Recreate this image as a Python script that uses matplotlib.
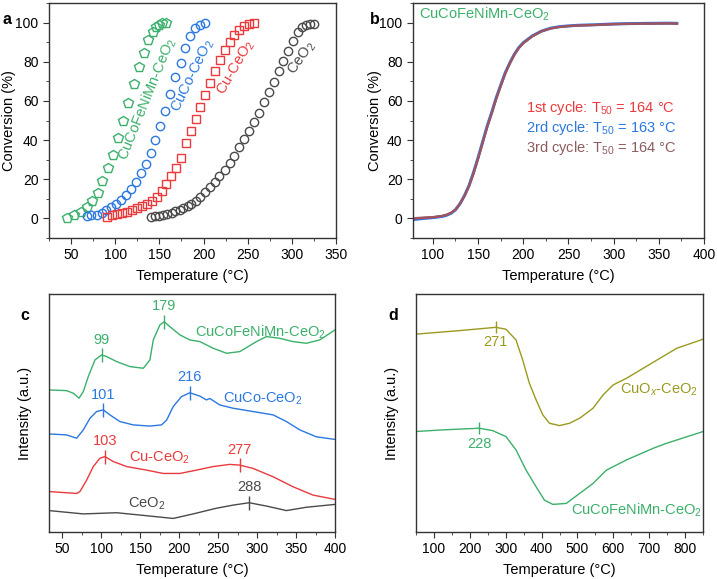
import matplotlib
matplotlib.use('Agg')
import matplotlib.pyplot as plt
from matplotlib.ticker import MultipleLocator

plt.rcParams['font.family'] = ['Liberation Sans', 'DejaVu Sans']
plt.rcParams['font.size'] = 10
plt.rcParams['mathtext.fontset'] = 'custom'
plt.rcParams['mathtext.rm'] = 'Liberation Sans'
plt.rcParams['mathtext.it'] = 'Liberation Sans:italic'

GREEN = '#3bb06b'
BLUE = '#2a78e0'
RED = '#ea3a3d'
GREY = '#4a4a4a'
OLIVE = '#9a9a1e'
BROWN = '#8e5c5c'

# ---- panel a: light-off curves
t_hea = [45, 53.5, 61.5, 68.5, 73.5, 80, 85.5, 91.5, 97.5, 103.5, 109, 115, 121, 126.5,
         132.5, 137.5, 142.5, 146, 149.5, 152.5, 157]
c_hea = [0.3, 2, 3.4, 5.8, 9, 13, 19, 25.6, 32.6, 41, 50, 59, 68.6, 77.3,
         84.6, 91.3, 95.2, 97.6, 98.8, 99.7, 100]
t_cuco = [67.5, 73, 79, 84.5, 90, 95.5, 101, 107, 112.5, 118, 123.5, 129, 134.5, 140,
          145.5, 151, 156, 162.5, 168, 174, 179.5, 185, 190.5, 196, 201.5]
c_cuco = [1, 1.5, 2, 3, 4.5, 6, 7.5, 9.5, 12, 15, 18.5, 23, 28, 33.5,
          40, 47, 55, 63.5, 72, 79.5, 87, 93, 97, 99, 100]
t_cu = [91, 96.5, 102, 108, 113.5, 119, 124.5, 130, 136, 141.5, 147, 152.5, 158, 163.5,
        169, 174.5, 180, 185.5, 191, 196.5, 201.5, 207.5, 213, 218.5, 224, 229.5, 234.5,
        240, 245.5, 251, 257]
c_cu = [0.8, 1.7, 2.2, 2.7, 3.4, 4.3, 5.1, 6.1, 7.3, 9, 11, 14, 17.5, 21.5,
        25.5, 31, 38.5, 44.5, 51, 56.8, 62.8, 69.3, 75.1, 80.7, 85.8, 90.1, 93.5,
        96.1, 98.3, 99.5, 100]
t_ceo2 = [141, 145, 150, 154, 159, 164, 168, 173, 177, 182, 186, 191, 196, 201.5, 207,
          213, 218, 224, 229.5, 235, 240, 246, 251.5, 257, 263, 268, 274, 280, 285, 290,
          296, 301.5, 306.5, 311, 316, 320, 325]
c_ceo2 = [0.5, 1, 1.4, 1.9, 2.4, 2.9, 3.6, 4.4, 5.3, 6.3, 7.5, 8.9, 10.8, 13.7, 16.2,
          18.8, 21.8, 24.9, 28.3, 32.1, 36.3, 40.6, 44.7, 49.1, 53.9, 59.4, 64.3, 69.5,
          75.1, 80.5, 85.7, 90.8, 95.2, 97.6, 98.6, 99.1, 99.5]

# ---- panel b: three cycles
t_cyc = [80, 90, 100, 110, 115, 120, 125, 130, 135, 140, 145, 150, 155, 160, 165, 170,
         175, 180, 185, 190, 195, 200, 210, 220, 230, 240, 250, 260, 280, 300, 320, 340,
         360, 370]
c_cyc1 = [0, 0.3, 0.6, 1.2, 1.8, 2.8, 4.5, 7.5, 11.5, 16.5, 23, 30.5, 38.5, 46.5, 53.5,
          61, 67.5, 74, 79, 83.5, 87, 89.5, 93, 95.5, 97, 97.8, 98.2, 98.5, 98.8, 99.2,
          99.4, 99.5, 99.6, 99.5]
c_cyc2 = [-0.5, 0, 0.4, 1, 1.6, 2.6, 4.4, 7.5, 11.7, 16.8, 23.5, 31, 39, 47, 54,
          61.5, 68, 74.3, 79.3, 83.7, 87.2, 89.7, 93.2, 95.6, 97.1, 97.9, 98.3, 98.6,
          98.9, 99.3, 99.5, 99.6, 99.7, 99.6]
c_cyc3 = [0.3, 0.6, 0.8, 1.4, 2, 2.9, 4.6, 7.4, 11.4, 16.4, 22.8, 30.3, 38.3, 46.3,
          53.3, 60.8, 67.3, 73.8, 78.9, 83.4, 86.9, 89.4, 92.9, 95.4, 96.9, 97.7, 98.1,
          98.4, 98.7, 99.1, 99.3, 99.4, 99.5, 99.4]
cycle_labels = ['1st cycle: T$_{50}$ = 164 °C', '2rd cycle: T$_{50}$ = 163 °C',
                '3rd cycle: T$_{50}$ = 164 °C']

# ---- panel c: H2-TPR
tc_hea = [33, 55.6, 64.2, 71.5, 77, 83.4, 92, 100.5, 107, 119.8, 136.8, 154, 162.5, 166.8,
          175.3, 180.9, 188, 201, 213.8, 226.6, 243.7, 260.8, 277.9, 299.2, 312, 329, 346,
          363.3, 380.4, 400]
ic_hea = [59.7, 59.4, 58.3, 56.2, 59, 65.3, 72.3, 74.4, 73.7, 71.6, 69.5, 68.8, 72.3, 80.7,
          87, 88.4, 86.3, 82.8, 80.7, 80, 77.2, 75.1, 75.8, 80, 82.1, 81.4, 80, 79.3,
          80.7, 84.9]
tc_cuco = [33, 55.6, 68.5, 77, 85.6, 94, 102.7, 111.2, 124, 141, 162.5, 177.4, 183.9,
           192.4, 203, 213.8, 226.6, 235, 239.4, 252, 269.3, 295, 320.6, 337.7, 354.8,
           376, 400]
ic_cuco = [41.2, 40.8, 39.4, 42.9, 47.8, 50.6, 51.3, 49.2, 46.4, 45, 44.5, 45, 47,
           52.7, 56.9, 58.5, 57.1, 55.5, 56.1, 53.4, 52, 50.6, 49.2, 46.4, 42.9, 40, 38.9]
tc_cu = [33, 68.5, 72.7, 81.3, 89.8, 98.4, 104.8, 115.5, 132.6, 158.2, 179.6, 201,
         222.3, 243.7, 265, 277.9, 295, 320.6, 346.2, 371.9, 400]
ic_cu = [17, 16.2, 17, 21.8, 27.5, 31, 31.7, 29.6, 27.5, 26, 24.6, 24.6, 26, 27.5,
         28.4, 28.1, 26.7, 23.2, 19, 15.5, 13.7]
tc_ceo2 = [33, 77, 119.8, 162.5, 192.4, 218, 248, 269.3, 289.8, 312, 337.7, 363.3, 400]
ic_ceo2 = [9, 7.6, 8.1, 6.7, 5.7, 7.6, 10, 11.3, 12.3, 10.9, 9, 10.4, 11.6]

# ---- panel d: O2-TPD
td_cuox = [47, 170, 272.7, 300.7, 328.7, 347.4, 366, 384.8, 403.5, 422, 450, 478, 506,
           543.5, 571.5, 599.5, 636.9, 683.5, 730, 777, 850]
id_cuox = [83.1, 84.6, 86, 85.2, 80.7, 72.3, 62.5, 55.5, 49.2, 45.7, 44.7, 45.7, 47.8,
           52, 57.6, 61.8, 64.6, 68.8, 73, 77.2, 81]
td_hea = [47, 123.3, 226, 263.4, 300.7, 328.7, 356.8, 384.8, 408, 431.5, 468.8, 506,
          543.5, 580.8, 636.9, 711.6, 749, 850]
id_hea = [42.2, 42.9, 43.6, 42.6, 40.1, 34.5, 26, 19, 13.4, 11.6, 12, 16.2, 20.4, 26,
          30.3, 35.2, 37.3, 42.2]

W, H = 717, 579
fig = plt.figure(figsize=(W / 100, H / 100), dpi=100)


def box(l, t, r, b):
    return [l / W, 1 - b / H, (r - l) / W, (b - t) / H]


ax_a = fig.add_axes(box(49, 3, 336, 238))
ax_b = fig.add_axes(box(413, 3, 704, 238))
ax_c = fig.add_axes(box(49, 294, 335, 532))
ax_d = fig.add_axes(box(416, 294, 703, 532))

for ax in (ax_a, ax_b, ax_c, ax_d):
    for s in ax.spines.values():
        s.set_color('#333333')
        s.set_linewidth(1)
    ax.tick_params(which='both', direction='out', color='#333333', labelsize=10)
    ax.tick_params(which='major', length=4)
    ax.tick_params(which='minor', length=2.5)
    ax.set_xlabel('Temperature (°C)', fontsize=10.5, labelpad=5)

# a
mk = dict(mfc='none', linestyle='none', mew=1)
ax_a.plot(t_hea, c_hea, marker='p', ms=7, mec=GREEN, **mk)
ax_a.plot(t_cuco, c_cuco, marker='o', ms=6, mec=BLUE, **mk)
ax_a.plot(t_cu, c_cu, marker='s', ms=5.5, mec=RED, **mk)
ax_a.plot(t_ceo2, c_ceo2, marker='o', ms=6, mec=GREY, **mk)
ax_a.set_xlim(25, 350)
ax_a.set_ylim(-10, 110)
ax_a.xaxis.set_major_locator(MultipleLocator(50))
ax_a.xaxis.set_minor_locator(MultipleLocator(25))
ax_a.yaxis.set_major_locator(MultipleLocator(20))
ax_a.yaxis.set_minor_locator(MultipleLocator(10))
ax_a.set_xticks([50, 100, 150, 200, 250, 300, 350])
ax_a.set_ylabel('Conversion (%)', fontsize=10.5)
ax_a.yaxis.set_label_coords(-0.115, 0.5)
ax_a.text(136, 61, 'CuCoFeNiMn-CeO$_2$', color=GREEN, rotation=68, fontsize=10.5,
          ha='center', va='center', rotation_mode='anchor')
ax_a.text(188, 73, 'CuCo-CeO$_2$', color=BLUE, rotation=64, fontsize=10.5,
          ha='center', va='center', rotation_mode='anchor')
ax_a.text(237, 77, 'Cu-CeO$_2$', color=RED, rotation=60, fontsize=10.5,
          ha='center', va='center', rotation_mode='anchor')
ax_a.text(311, 82, 'CeO$_2$', color=GREY, rotation=55, fontsize=10.5,
          ha='center', va='center', rotation_mode='anchor')

# b
ax_b.plot(t_cyc, c_cyc2, color=BLUE, lw=2.2)
ax_b.plot(t_cyc, c_cyc1, color=RED, lw=1.6, alpha=0.8)
ax_b.plot(t_cyc, c_cyc3, color=BROWN, lw=1.2, alpha=0.8)
ax_b.set_xlim(78, 400)
ax_b.set_ylim(-10, 110)
ax_b.xaxis.set_major_locator(MultipleLocator(50))
ax_b.xaxis.set_minor_locator(MultipleLocator(25))
ax_b.yaxis.set_major_locator(MultipleLocator(20))
ax_b.yaxis.set_minor_locator(MultipleLocator(10))
ax_b.set_ylabel('Conversion (%)', fontsize=10.5)
ax_b.yaxis.set_label_coords(-0.105, 0.5)
ax_b.text(0.02, 0.99, 'CuCoFeNiMn-CeO$_2$', color=GREEN, fontsize=10.5,
          transform=ax_b.transAxes, ha='left', va='top')
for i, (lab, col) in enumerate(zip(cycle_labels, [RED, BLUE, BROWN])):
    ax_b.text(0.387, 0.553 - i * 0.085, lab, color=col, fontsize=10.5,
              transform=ax_b.transAxes, ha='left', va='center')

# c
for t, v, col in [(tc_hea, ic_hea, GREEN), (tc_cuco, ic_cuco, BLUE),
                  (tc_cu, ic_cu, RED), (tc_ceo2, ic_ceo2, GREY)]:
    ax_c.plot(t, v, color=col, lw=1)
peaks_c = [(100.5, 74.4, '99', GREEN), (180.9, 88.4, '179', GREEN),
           (102.7, 51.3, '101', BLUE), (213.8, 58.5, '216', BLUE),
           (104.8, 31.7, '103', RED), (277.9, 28.1, '277', RED),
           (289.8, 12.3, '288', GREY)]
for x, y, lab, col in peaks_c:
    ax_c.plot([x], [y], marker='|', ms=10, mew=1, color=col)
    ax_c.text(x, y + 3.5, lab, color=col, fontsize=10.5, ha='center', va='bottom')
ax_c.text(220, 84, 'CuCoFeNiMn-CeO$_2$', color=GREEN, fontsize=10.5, va='center')
ax_c.text(256, 56, 'CuCo-CeO$_2$', color=BLUE, fontsize=10.5, va='center')
ax_c.text(136, 31, 'Cu-CeO$_2$', color=RED, fontsize=10.5, va='center')
ax_c.text(134, 12, 'CeO$_2$', color=GREY, fontsize=10.5, va='center')
ax_c.set_xlim(33, 400)
ax_c.set_ylim(0, 100)
ax_c.xaxis.set_major_locator(MultipleLocator(50))
ax_c.xaxis.set_minor_locator(MultipleLocator(25))
ax_c.set_yticks([])
ax_c.set_ylabel('Intensity (a.u.)', fontsize=10.5)
ax_c.yaxis.set_label_coords(-0.06, 0.5)

# d
ax_d.plot(td_cuox, id_cuox, color=OLIVE, lw=1)
ax_d.plot(td_hea, id_hea, color=GREEN, lw=1)
ax_d.plot([272.7], [86], marker='|', ms=8, mew=1, color=OLIVE)
ax_d.plot([226], [43.6], marker='|', ms=8, mew=1, color=GREEN)
ax_d.text(271, 80, '271', color=OLIVE, fontsize=10.5, ha='center', va='center')
ax_d.text(226, 37, '228', color=GREEN, fontsize=10.5, ha='center', va='center')
ax_d.text(835, 59.7, 'CuO$_x$-CeO$_2$', color=OLIVE, fontsize=10.5, ha='right', va='center')
ax_d.text(847, 9.2, 'CuCoFeNiMn-CeO$_2$', color=GREEN, fontsize=10.5, ha='right', va='center')
ax_d.set_xlim(50, 850)
ax_d.set_ylim(0, 100)
ax_d.xaxis.set_major_locator(MultipleLocator(100))
ax_d.xaxis.set_minor_locator(MultipleLocator(50))
ax_d.set_yticks([])
ax_d.set_ylabel('Intensity (a.u.)', fontsize=10.5)
ax_d.yaxis.set_label_coords(-0.059, 0.5)

for lab, x, y in [('a', 7, 20), ('b', 375, 20), ('c', 25, 316), ('d', 393, 316)]:
    fig.text(x / W, 1 - y / H, lab, fontsize=11.5, fontweight='bold',
             ha='center', va='center')

fig.savefig('out.png', dpi=100)
